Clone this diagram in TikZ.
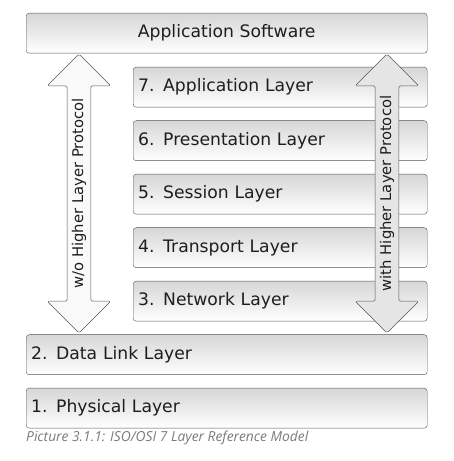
\documentclass[tikz,border=0pt]{standalone}
\usepackage{fontspec}
\setmainfont{DejaVu Sans}
\newfontfamily\capfont{Open Sans}
\usepackage{xcolor}
\usepackage{tikz}
\usetikzlibrary{shapes.arrows,positioning}

\definecolor{boxline}{HTML}{555555}
\definecolor{boxtext}{HTML}{1E1E1E}
\definecolor{captext}{HTML}{7A7A7A}

\tikzset{
  layerbox/.style={draw=boxline, rounded corners=3pt, top color=gray!32, bottom color=white,
     minimum height=40pt, inner xsep=5pt, inner ysep=0pt, align=left, anchor=north west,
     text=boxtext, font=\fontsize{17.2}{20}\selectfont},
  protoarrow/.style={double arrow, draw=boxline, rounded corners=1.5pt, rotate=90,
     minimum height=279pt, inner xsep=0pt, inner ysep=4.5pt, double arrow head extend=20pt,
     text=boxtext, font=\fontsize{14.8}{16}\selectfont}
}

\begin{document}
\begin{tikzpicture}[x=1pt,y=1pt]
\useasboundingbox (0,0) rectangle (453,461);

%  software on top, the two lower layers across the full width
  \node[layerbox, text width=391pt, align=center] (appsw) at (26,448) {Application Software};

    \node[layerbox, text width=284pt] (l7) at (133,394) {7. Application Layer};
    \node[layerbox, text width=284pt] (l6) at (133,340.5) {6. Presentation Layer};
    \node[layerbox, text width=284pt] (l5) at (133,287) {5. Session Layer};
    \node[layerbox, text width=284pt] (l4) at (133,233.5) {4. Transport Layer};
    \node[layerbox, text width=284pt] (l3) at (133,180) {3. Network Layer};

  \node[layerbox, text width=391pt] (l2) at (26,126.5) {2. Data Link Layer};
  \node[layerbox, text width=391pt] (l1) at (26,73) {1. Physical Layer};

%  the two protocol arrows
  \node[protoarrow, fill=gray!5] (wo) at (79,267.5) {w/o Higher Layer Protocol};
  \node[protoarrow, fill=gray!20] (with) at (387,267.5) {with Higher Layer Protocol};

  \node[anchor=west, inner sep=0pt, text=captext, font=\capfont\itshape\fontsize{13.8}{16}\selectfont]
     (cap) at (26,23) {Picture 3.1.1: ISO/OSI 7 Layer Reference Model};

\end{tikzpicture}
\end{document}
